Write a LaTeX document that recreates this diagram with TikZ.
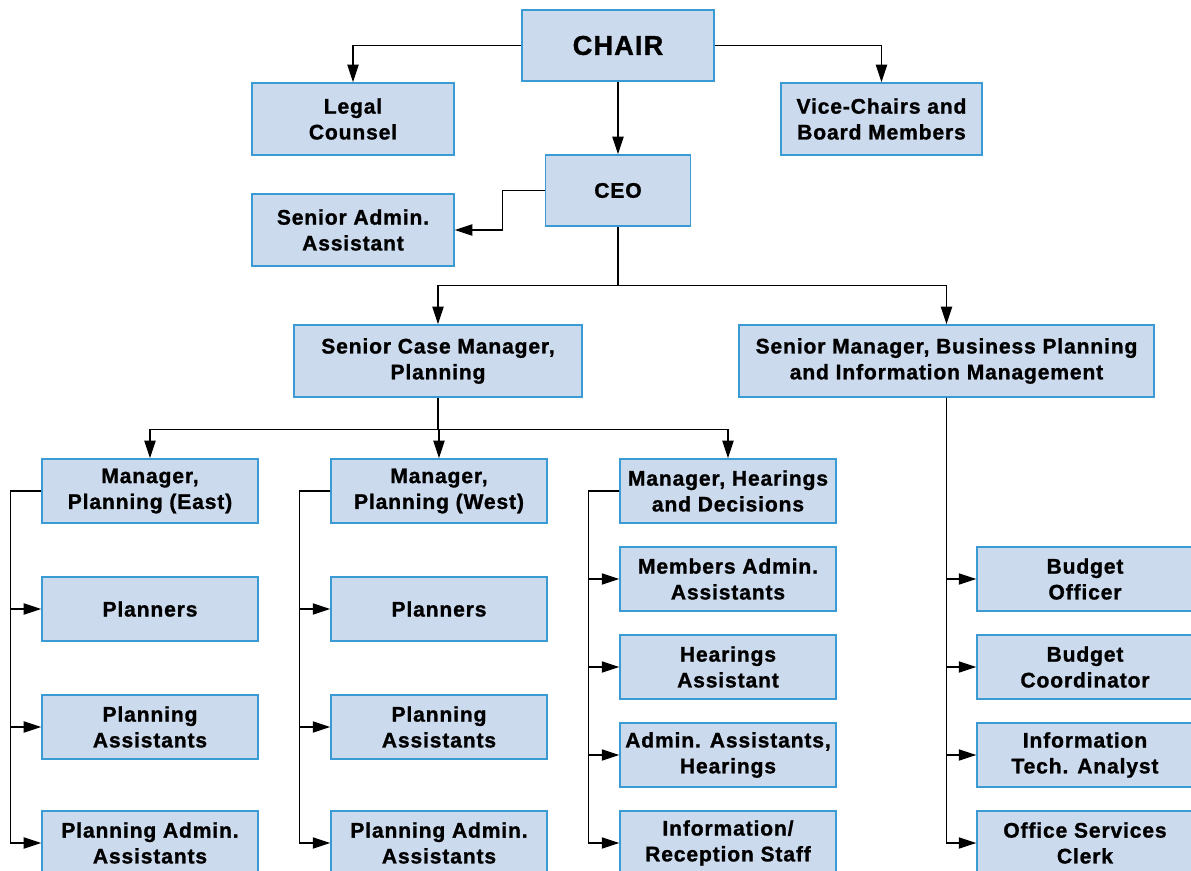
\documentclass[tikz,border=0pt]{standalone}
\usepackage{fontspec}
\newfontfamily\orgfont{Liberation Sans}[LetterSpace=4, BoldFeatures={FakeBold=1.2}]
\usepackage{xcolor}
\usepackage{tikz}
\usetikzlibrary{arrows.meta, positioning, calc}

\definecolor{boxfill}{HTML}{CCDAEE}
\definecolor{boxline}{HTML}{3A9AD4}

\tikzset{
	orgbox/.style={draw=boxline, fill=boxfill, line width=0.8pt, align=center, inner sep=0pt,
		font=\orgfont\bfseries\fontsize{12}{14.7}\selectfont},
	topbox/.style={orgbox, minimum height=1.44cm},
	lowbox/.style={orgbox, minimum width=4.32cm, minimum height=1.28cm},
	arr/.style={-{Triangle[length=10pt, width=6.4pt]}, line width=0.75pt},
	wire/.style={line width=0.75pt}
}

\begin{document}
\begin{tikzpicture}[x=0.02cm, y=-0.02cm]
	\clip (0,0) rectangle (1191,871); % page frame
	
	% Top level
	\node[topbox, minimum width=3.84cm, minimum height=1.42cm, font=\orgfont\bfseries\fontsize{15.5}{18}\selectfont] (chair) at (618,45.5) {CHAIR};
	\node[topbox, minimum width=4.04cm] (legal) at (353,119) {Legal\\Counsel};
	\node[topbox, minimum width=4.02cm] (vice) at (881.5,119) {Vice-Chairs and\\Board Members};
	\node[topbox, minimum width=2.9cm, minimum height=1.42cm] (ceo) at (618,190.5) {CEO};
	\node[topbox, minimum width=4.04cm] (sadmin) at (353,230) {Senior Admin.\\Assistant};
	
	% Senior managers
	\node[topbox, minimum width=5.76cm] (scm) at (438,361) {Senior Case Manager,\\Planning};
	\node[topbox, minimum width=8.3cm] (smbp) at (946.5,361) {Senior Manager, Business Planning\\and Information Management};
	
	% Managers
	\node[lowbox] (east) at (150,491) {Manager,\\Planning (East)};
	\node[lowbox] (west) at (439,491) {Manager,\\Planning (West)};
	\node[lowbox] (hear) at (728,491) {Manager, Hearings\\and Decisions};
	
	% Planning (East) staff
	\node[lowbox] (eplan) at (150,609) {Planners};
	\node[lowbox] (eassist) at (150,727) {Planning\\Assistants};
	\node[lowbox] (eadmin) at (150,843) {Planning Admin.\\Assistants};
	
	% Planning (West) staff
	\node[lowbox] (wplan) at (439,609) {Planners};
	\node[lowbox] (wassist) at (439,727) {Planning\\Assistants};
	\node[lowbox] (wadmin) at (439,843) {Planning Admin.\\Assistants};
	
	% Hearings staff
	\node[lowbox] (hmembers) at (728,579) {Members Admin.\\Assistants};
	\node[lowbox] (hassist) at (728,667) {Hearings\\Assistant};
	\node[lowbox] (hadmin) at (728,755) {Admin. Assistants,\\Hearings};
	\node[lowbox] (hinfo) at (728,843) {Information/\\Reception Staff};
	
	% Business planning staff
	\node[lowbox] (bofficer) at (1085,579) {Budget\\Officer};
	\node[lowbox] (bcoord) at (1085,667) {Budget\\Coordinator};
	\node[lowbox] (itanalyst) at (1085,755) {Information\\Tech. Analyst};
	\node[lowbox] (clerk) at (1085,843) {Office Services\\Clerk};
	
	% Connectors from the chair
	\draw[arr] (chair.west) -| (legal.north);
	\draw[arr] (chair.east) -| (vice.north);
	\draw[arr] (chair.south) -- (ceo.north);
	\draw[arr] (ceo.west) -- ++(-42,0) |- (sadmin.east);
	
	% CEO to senior managers
	\draw[wire] (ceo.south) -- ++(0,58.5) coordinate (ceoj);
	\draw[arr] (ceoj) -| (scm.north);
	\draw[arr] (ceoj) -| (smbp.north);
	
	% Senior case manager to managers
	\draw[wire] (scm.south) -- ++(0,32) coordinate (scmj);
	\foreach \m in {east, west, hear}
	\draw[arr] (scmj) -| (\m.north);
	
	% Side rails to staff
	\foreach \c in {eplan, eassist, eadmin}
	\draw[arr] (east.west) -- ++(-31,0) |- (\c.west);
	\foreach \c in {wplan, wassist, wadmin}
	\draw[arr] (west.west) -- ++(-31,0) |- (\c.west);
	\foreach \c in {hmembers, hassist, hadmin, hinfo}
	\draw[arr] (hear.west) -- ++(-31,0) |- (\c.west);
	\foreach \c in {bofficer, bcoord, itanalyst, clerk}
	\draw[arr] (smbp.south) |- (\c.west);
	
\end{tikzpicture}
\end{document}
